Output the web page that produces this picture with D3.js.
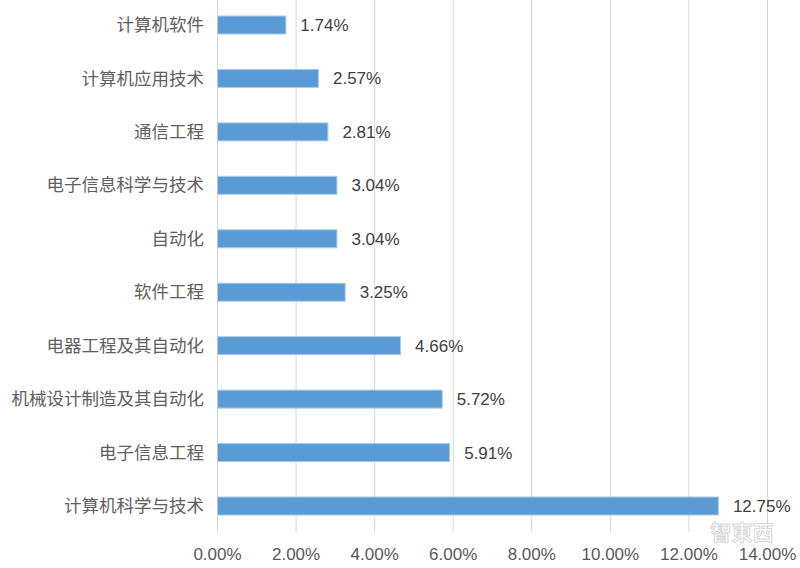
<!DOCTYPE html>
<html><head><meta charset="utf-8">
<script src="https://cdn.jsdelivr.net/npm/d3@7"></script>
<style>body{margin:0;background:#fff}svg{display:block}</style>
</head><body>
<svg id="c" width="800" height="568"></svg>
<script>
const categories = ["计算机软件","计算机应用技术","通信工程","电子信息科学与技术","自动化","软件工程","电器工程及其自动化","机械设计制造及其自动化","电子信息工程","计算机科学与技术"];
const values = [1.74, 2.57, 2.81, 3.04, 3.04, 3.25, 4.66, 5.72, 5.91, 12.75];
const tickValues = [0,2,4,6,8,10,12,14];

const svg = d3.select("#c");
const x = d3.scaleLinear().domain([0,14]).range([217,767]);
const y = d3.scalePoint().domain(categories).range([25,506]);
const barH = 18;

// gridlines
svg.append("g").selectAll("line").data(tickValues).join("line")
  .attr("x1", d=>x(d)+0.5).attr("x2", d=>x(d)+0.5)
  .attr("y1", 0).attr("y2", 532)
  .attr("stroke", "#d9d9d9").attr("stroke-width", 1);

// x axis
const xAxis = d3.axisBottom(x).tickValues(tickValues).tickSize(0).tickPadding(0)
  .tickFormat(d => d.toFixed(2) + "%");
const gx = svg.append("g").attr("transform", "translate(0,554)").call(xAxis);
gx.select(".domain").remove();
gx.selectAll("text").attr("dy","0.35em").attr("fill","#595959")
  .style("font-family","'Liberation Sans', Arial, sans-serif").style("font-size","17px");

// y axis labels
const yAxis = d3.axisLeft(y).tickSize(0).tickPadding(13);
const gy = svg.append("g").attr("transform", "translate(217,0)").call(yAxis);
gy.select(".domain").remove();
gy.selectAll("text").attr("fill","#606060")
  .style("font-family","'Noto Sans CJK SC', sans-serif").style("font-size","17.5px");

// bars
svg.append("g").selectAll("rect").data(values).join("rect")
  .attr("x", x(0)+0.5)
  .attr("y", (d,i)=>y(categories[i]) - barH/2)
  .attr("width", d=>x(d)-x(0))
  .attr("height", barH)
  .attr("fill", "#5b9bd5")
  .attr("stroke", "#a8cbec").attr("stroke-width", 1);

// value labels
svg.append("g").selectAll("text").data(values).join("text")
  .attr("x", d=>x(d)+15)
  .attr("y", (d,i)=>y(categories[i]))
  .attr("dy","0.35em")
  .attr("fill","#404040")
  .style("font-family","'Liberation Sans', Arial, sans-serif").style("font-size","17px")
  .text(d=>d.toFixed(2)+"%");

// watermark
svg.append("text").attr("x", 742).attr("y", 540).attr("text-anchor","middle")
  .attr("fill","#ffffff").attr("fill-opacity",0.85).attr("stroke","#d8d8d8").attr("stroke-width",1)
  .style("font-family","'Noto Sans CJK SC', sans-serif").style("font-size","21px").style("font-weight","bold")
  .text("智東西");
</script>
</body></html>
